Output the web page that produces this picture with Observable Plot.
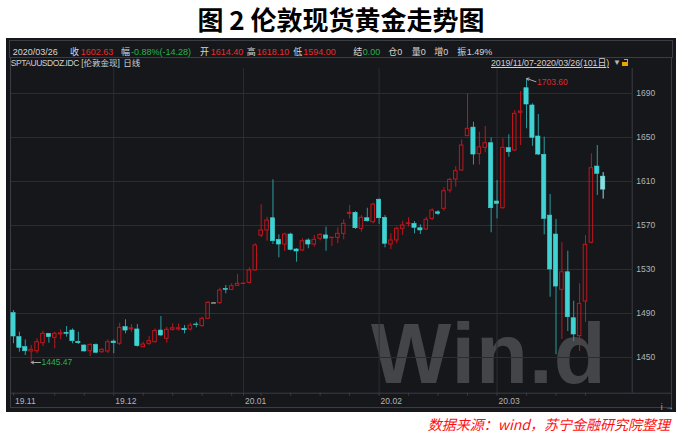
<!DOCTYPE html>
<html><head><meta charset="utf-8">
<script src="https://cdn.jsdelivr.net/npm/d3@7"></script>
<script src="https://cdn.jsdelivr.net/npm/@observablehq/plot@0.6"></script>
<style>
body{margin:0;background:#fff;width:682px;height:435px;position:relative;overflow:hidden;font-family:"Liberation Sans","Noto Sans CJK SC",sans-serif;}
.abs{position:absolute;white-space:nowrap;}
#title{left:0;top:0;width:682px;height:38px;text-align:center;font:700 26px/37px "Noto Sans CJK SC",sans-serif;color:#000;}
#panel{left:6px;top:38px;width:670px;height:374px;background:#15171b;}
#wm{left:371px;top:323.5px;height:60px;font:700 85px/60px "Liberation Sans",sans-serif;color:rgba(255,255,255,0.2);letter-spacing:1px;}
#box1{left:9px;top:40px;width:664px;height:18px;border:1px solid #3a3d44;box-sizing:border-box;}
#frame{left:10px;top:57px;width:662px;height:351px;border:1px solid #3a3d44;box-sizing:border-box;}
#chart{left:6px;top:60px;}
.h1{top:45.5px;font-size:9px;line-height:12px;color:#d6d6d6;}
.r{color:#ee2a2a;}
.g{color:#25b54a;}
.h2{top:58px;font-size:8.5px;line-height:10px;color:#d0d0d0;}
#cap{right:12px;top:416px;font:italic 14px/17px "Noto Sans CJK SC",sans-serif;color:#ff1010;}
#lock{left:622px;top:61.5px;width:6px;height:4.5px;background:#e9a400;}
#lock2{left:624px;top:58.5px;width:4px;height:3px;border:1px solid #e9a400;border-bottom:none;border-left:none;box-sizing:border-box;}
</style></head>
<body>
<div id="title" class="abs">图 2 伦敦现货黄金走势图</div>
<div id="panel" class="abs"></div>
<div id="wm" class="abs">Win.d</div>
<div id="box1" class="abs"></div>
<div id="frame" class="abs"></div>
<div id="chart" class="abs"></div>
<span class="abs h1" style="left:12.7px">2020/03/26</span>
<span class="abs h1" style="left:70px">收</span>
<span class="abs h1 r" style="left:80.7px">1602.63</span>
<span class="abs h1" style="left:121px">幅</span>
<span class="abs h1 g" style="left:131px">-0.88%(-14.28)</span>
<span class="abs h1" style="left:200px">开</span>
<span class="abs h1 r" style="left:210.7px">1614.40</span>
<span class="abs h1" style="left:246.7px">高</span>
<span class="abs h1 r" style="left:256.7px">1618.10</span>
<span class="abs h1" style="left:293.3px">低</span>
<span class="abs h1 r" style="left:303.3px">1594.00</span>
<span class="abs h1" style="left:353.3px">结</span>
<span class="abs h1 g" style="left:362.7px">0.00</span>
<span class="abs h1" style="left:388.3px">仓0</span>
<span class="abs h1" style="left:411.7px">量0</span>
<span class="abs h1" style="left:434.3px">增0</span>
<span class="abs h1" style="left:457.3px">振</span>
<span class="abs h1" style="left:466.7px">1.49%</span>
<span class="abs h2" style="left:10.7px"><span style="letter-spacing:-0.45px">SPTAUUSDOZ.IDC</span> [伦敦金现]</span>
<span class="abs h2 r" style="left:123.3px">日线</span>
<span class="abs h2" style="left:491px;font-size:8.9px;letter-spacing:-0.1px;text-decoration:underline;">2019/11/07-2020/03/26(101日)</span>
<span class="abs h2" style="left:613px;font-size:8px;color:#b8b8b8">▼</span>
<div id="lock2" class="abs"></div>
<div id="lock" class="abs"></div>
<div id="cap" class="abs">数据来源：wind，苏宁金融研究院整理</div>
<script>
// Daily OHLC, London spot gold (伦敦金现), 2019-11-07 .. 2020-03-26, 101 trading days
const open = [1490.3,1468.5,1459.4,1455.5,1455.7,1463.0,1471.5,1467.9,1471.0,1472.5,
1474.5,1464.2,1460.9,1455.7,1461.5,1454.8,1455.5,1464.5,1462.5,1477.6,
1475.5,1475.5,1459.4,1462.4,1463.9,1474.5,1467.0,1475.2,1475.5,1476.0,
1475.5,1480.0,1478.5,1485.2,1499.6,1499.4,1512.3,1511.5,1515.2,1516.8,
1517.9,1529.1,1560.9,1565.5,1576.6,1557.0,1552.7,1561.8,1548.2,1547.3,
1556.4,1552.7,1558.0,1561.0,1558.6,1558.8,1562.4,1580.6,1581.5,1567.0,
1576.6,1573.0,1593.4,1577.0,1552.7,1556.4,1567.0,1571.5,1571.5,1567.5,
1566.4,1576.0,1582.0,1585.2,1601.8,1611.8,1620.0,1651.2,1659.0,1635.0,
1640.6,1644.8,1591.8,1585.7,1640.3,1638.2,1672.5,1694.8,1679.1,1650.9,
1634.3,1579.0,1561.8,1511.5,1527.5,1485.7,1469.4,1500.9,1554.3,1623.6,
1614.40];
const high = [1492.7,1473.0,1466.0,1460.9,1467.0,1473.9,1471.8,1473.0,1475.2,1478.2,
1476.0,1473.0,1461.5,1462.4,1462.4,1458.0,1466.0,1466.0,1481.2,1484.3,
1480.0,1480.0,1463.9,1469.0,1476.0,1487.3,1477.5,1480.6,1480.6,1479.0,
1481.2,1482.0,1486.6,1500.9,1499.6,1513.0,1515.5,1517.0,1525.5,1517.2,
1531.5,1553.4,1588.8,1577.5,1611.5,1561.5,1563.0,1563.0,1549.0,1557.9,
1557.9,1561.0,1562.5,1568.5,1559.0,1568.0,1575.2,1588.2,1582.7,1579.0,
1585.7,1590.3,1594.3,1579.0,1562.4,1568.5,1573.9,1577.0,1573.6,1570.6,
1577.5,1585.2,1583.6,1604.3,1613.0,1623.6,1647.9,1689.7,1663.9,1654.8,
1660.0,1649.7,1610.9,1648.8,1652.5,1674.5,1691.8,1703.60,1680.6,1670.9,
1650.3,1598.2,1575.5,1554.3,1546.6,1501.2,1517.0,1560.9,1635.2,1642.7,
1618.10];
const low = [1462.5,1454.8,1451.8,1445.47,1453.4,1460.0,1463.0,1457.9,1466.0,1468.5,
1462.4,1461.8,1455.0,1450.9,1453.4,1453.8,1453.4,1453.4,1460.9,1471.5,
1473.0,1459.4,1458.8,1461.0,1463.0,1469.0,1463.0,1474.0,1474.0,1471.5,
1474.0,1477.0,1477.5,1484.5,1499.6,1498.2,1507.9,1510.9,1514.5,1516.8,
1517.0,1528.5,1559.0,1555.7,1552.7,1540.6,1546.4,1547.0,1536.6,1546.4,
1548.8,1550.3,1556.0,1546.6,1551.0,1553.4,1557.0,1576.0,1566.4,1564.0,
1573.0,1571.5,1571.0,1549.7,1548.0,1553.4,1561.0,1568.5,1562.4,1561.8,
1565.5,1574.5,1579.0,1583.0,1599.4,1604.8,1619.4,1651.0,1625.0,1625.0,
1636.1,1563.4,1576.0,1585.0,1632.0,1637.3,1642.7,1657.9,1642.0,1633.6,
1561.5,1504.8,1452.5,1466.4,1473.6,1464.5,1455.5,1482.1,1553.4,1597.3,
1594.00];
const close = [1469.1,1458.8,1455.7,1457.0,1463.9,1471.5,1468.5,1471.5,1472.0,1471.5,
1464.8,1463.0,1455.5,1461.5,1454.3,1457.0,1463.9,1463.0,1477.0,1474.5,
1476.5,1460.3,1461.8,1464.8,1474.0,1470.0,1475.2,1476.6,1476.6,1474.8,
1479.0,1479.5,1485.2,1499.7,1499.6,1510.9,1511.5,1514.8,1517.0,1517.2,
1529.1,1551.8,1565.5,1574.5,1555.7,1552.7,1561.8,1547.9,1546.4,1555.7,
1552.7,1557.0,1561.5,1558.0,1558.9,1562.4,1571.5,1581.5,1567.5,1577.0,
1573.9,1589.0,1576.6,1553.4,1556.4,1567.0,1570.0,1572.0,1567.9,1565.5,
1575.2,1583.6,1580.6,1601.2,1611.5,1619.4,1642.7,1657.9,1634.5,1641.0,
1644.8,1585.7,1589.7,1640.6,1636.6,1671.5,1673.6,1680.0,1649.7,1634.5,
1576.0,1530.0,1514.5,1527.5,1486.6,1470.9,1498.8,1552.5,1622.1,1617.0,
1602.63];
const yTicks = [1450,1490,1530,1570,1610,1650,1690];
const monthIdx = [0,17,39,62,82];
const monthLabels = ["19.11","19.12","20.01","20.02","20.03"];
const weekIdx = [0,7,12,17,22,27,32,37,39,42,47,52,57,62,67,72,77,82,87,92,97];

const UP = "#c3161d", DOWN = "#3fd3d3", DOWNWICK = "#2c9c9e", FLAT = "#9a9a9a", LAST = "#86e0e0";
const GRID = "#2a2d33", FRAME = "#3a3d44", LABEL = "#b4b4b4";

const n = open.length;
const rows = d3.range(n).map(i => {
  const dir = close[i] > open[i] ? 1 : close[i] < open[i] ? -1 : 0;
  return {i, o: open[i], h: high[i], l: low[i], c: close[i],
    top: Math.max(open[i], close[i]), bot: Math.min(open[i], close[i]), dir,
    wick: dir > 0 ? UP : dir < 0 ? (i === n - 1 ? LAST : DOWNWICK) : FLAT,
    body: dir > 0 ? UP : dir < 0 ? (i === n - 1 ? LAST : DOWN) : FLAT};
});
const xDom = [-0.39, 104.92], yDom = [1417.55, 1712.73];
const pxPerUnit = 324.7 / (yDom[1] - yDom[0]);
const hi = d3.maxIndex(high), lo = d3.minIndex(low);
const labelMap = new Map(monthIdx.map((d, k) => [d, monthLabels[k]]));

const chart = Plot.plot({
  width: 670, height: 352,
  marginLeft: 4.7, marginRight: 44.3, marginTop: 8, marginBottom: 19.3,
  style: {background: "transparent", fontFamily: "Liberation Sans, Arial, sans-serif", fontSize: "8.5px"},
  x: {type: "linear", domain: xDom, axis: null},
  y: {domain: yDom, axis: null},
  color: {type: "identity"},
  marks: [
    Plot.ruleY(yTicks, {stroke: GRID}),
    Plot.ruleX(monthIdx.slice(1), {stroke: GRID}),
    Plot.ruleX([xDom[1]], {stroke: FRAME}),
    Plot.ruleY([yDom[0]], {x1: xDom[0], x2: 111.75, stroke: FRAME}),
    // weekly tick marks under the axis line (3px)
    Plot.ruleX(weekIdx, {x: d => d, y1: yDom[0], y2: yDom[0] - 3 / pxPerUnit, stroke: FRAME}),
    Plot.ruleX(rows, {x: "i", y1: "top", y2: "h", stroke: "wick"}),
    Plot.ruleX(rows, {x: "i", y1: "l", y2: "bot", stroke: "wick"}),
    Plot.rect(rows.filter(d => d.dir > 0), {x1: d => d.i - 0.3, x2: d => d.i + 0.3, y1: "bot", y2: "top", fill: "none", stroke: UP}),
    Plot.rect(rows.filter(d => d.dir < 0), {x1: d => d.i - 0.36, x2: d => d.i + 0.36, y1: "bot", y2: "top", fill: "body", stroke: "body", strokeWidth: 0.6}),
    Plot.ruleY(rows.filter(d => d.dir === 0), {x1: d => d.i - 0.4, x2: d => d.i + 0.4, y: "c", stroke: FLAT, strokeWidth: 1.5}),
    Plot.axisY(yTicks, {anchor: "right", tickSize: 0, tickPadding: 4, tickFormat: d => String(d), fill: LABEL, fontSize: 8.5}),
    Plot.axisX(monthIdx, {anchor: "bottom", tickSize: 0, tickPadding: 4.5, tickFormat: d => labelMap.get(d), textAnchor: "start", dx: 1.5, fill: LABEL, fontSize: 8.5}),
    Plot.arrow([lo], {x1: d => d + 1.58, y1: d => low[d], x2: d => d, y2: d => low[d], stroke: "#a8a8a8", headLength: 4, strokeWidth: 1}),
    Plot.text([lo], {x: d => d, y: d => low[d], text: d => low[d].toFixed(2), fill: "#25b54a", textAnchor: "start", dx: 10.3, fontSize: 8.5}),
    Plot.arrow([hi], {x1: d => d + 1.6, y1: d => high[d] - 2.9, x2: d => d, y2: d => high[d], stroke: "#a8a8a8", headLength: 4, strokeWidth: 1}),
    Plot.text([hi], {x: d => d, y: d => high[d], text: d => high[d].toFixed(2), fill: "#e0262c", textAnchor: "start", dx: 10.5, dy: 3.6, fontSize: 8.5})
  ]
});
document.getElementById("chart").appendChild(chart);
</script>
</body></html>
